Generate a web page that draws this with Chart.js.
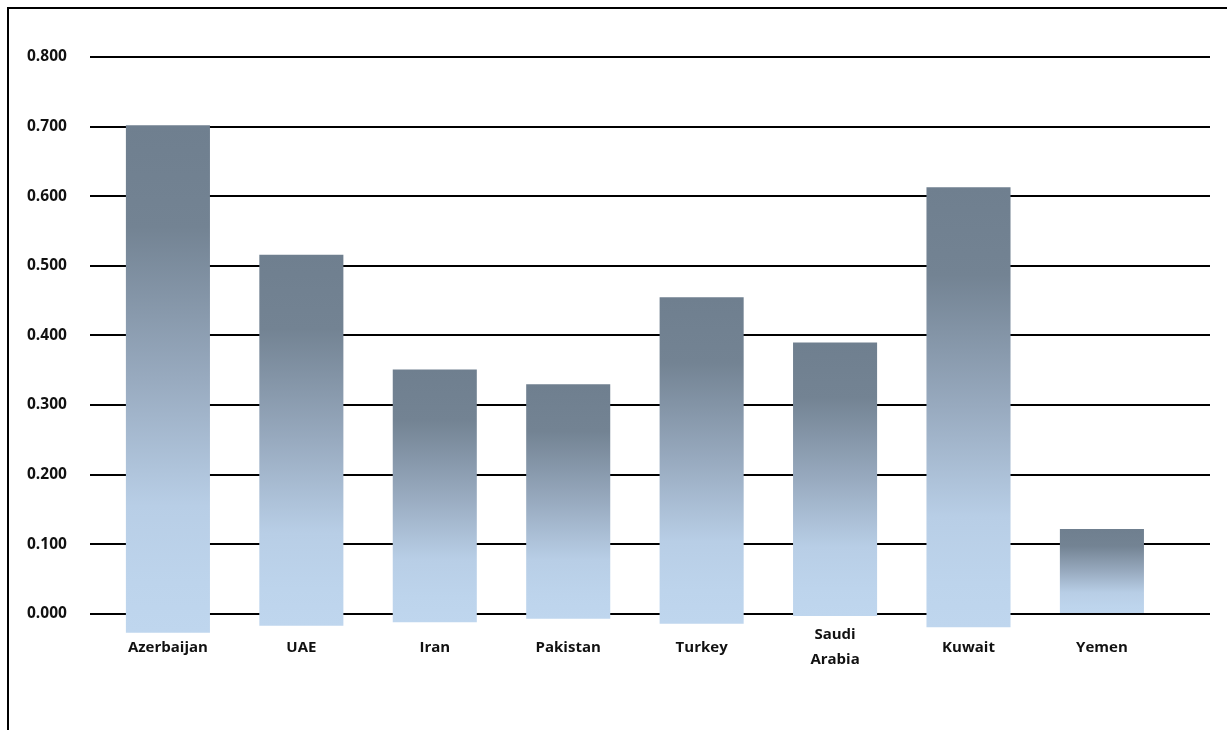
<!DOCTYPE html>
<html>
<head>
<meta charset="utf-8">
<script src="https://cdn.jsdelivr.net/npm/chart.js@4"></script>
<style>
  html, body { margin: 0; padding: 0; background: #fff; }
  #wrap { position: absolute; left: 0; top: 0; width: 1227px; height: 730px; }
  #frame { position: absolute; left: 7px; top: 7px; right: 0; bottom: 0;
           border-left: 2px solid #000; border-top: 2px solid #000; }
</style>
</head>
<body>
<div id="wrap">
  <div id="frame"></div>
  <canvas id="barChart" width="1227" height="730"></canvas>
</div>
<script>
const countries = ['Azerbaijan', 'UAE', 'Iran', 'Pakistan', 'Turkey', 'Saudi Arabia', 'Kuwait', 'Yemen'];
const values = [0.702, 0.516, 0.351, 0.330, 0.455, 0.390, 0.613, 0.122];
// the scanned bars reach a little under the zero line
const barBottoms = [-0.027, -0.017, -0.012, -0.007, -0.014, -0.003, -0.019, 0.0];
const yTicks = [0, 0.1, 0.2, 0.3, 0.4, 0.5, 0.6, 0.7, 0.8];

const barFill = (c) => {
    const chart = c.chart;
    const i = c.dataIndex;
    if (!chart.chartArea || i === undefined) return '#9aafc5';
    const y = chart.scales.y;
    const top = y.getPixelForValue(values[i]);
    const bottom = y.getPixelForValue(barBottoms[i]);
    const g = chart.ctx.createLinearGradient(0, top, 0, bottom);
    g.addColorStop(0, '#6f7f8f');
    g.addColorStop(0.2, '#738393');
    g.addColorStop(0.5, '#98aabf');
    g.addColorStop(0.75, '#b8cee6');
    g.addColorStop(0.9, '#bdd4ec');
    g.addColorStop(1, '#bfd6ee');
    return g;
};

const ctx = document.getElementById('barChart').getContext('2d');
const chart = new Chart(ctx, {
    type: 'bar',
    data: {
        datasets: [
            {
                data: countries.map((c, i) => ({ x: i, y: [barBottoms[i], values[i]] })),
                backgroundColor: barFill,
                borderWidth: 0,
                barPercentage: 0.63,
                categoryPercentage: 1,
                clip: false
            }
        ]
    },
    options: {
        responsive: false,
        animation: false,
        layout: { padding: { left: 4, right: 17, top: 57, bottom: 32 } },
        plugins: { legend: { display: false }, tooltip: { enabled: false } },
        scales: {
            x: {
                type: 'linear',
                offset: false,
                min: -0.585,
                max: 7.81,
                grid: { display: false },
                border: { display: false },
                ticks: {
                    stepSize: 1,
                    includeBounds: false,
                    autoSkip: false,
                    maxRotation: 0,
                    crossAlign: 'center',
                    padding: 13,
                    color: '#111',
                    font: { family: 'Open Sans', weight: 'bold', size: 15, lineHeight: 1.67 },
                    callback: (v) => (Number.isInteger(v) && countries[v]) ? countries[v].split(' ') : ''
                }
            },
            y: {
                min: 0,
                max: 0.8,
                afterBuildTicks: (axis) => { axis.ticks = yTicks.map(v => ({ value: v })); },
                grid: { color: '#000', lineWidth: 2, drawTicks: false },
                border: { display: false },
                ticks: {
                    padding: 23,
                    color: '#111',
                    font: { family: 'Open Sans', weight: 'bold', size: 15.5 },
                    callback: (v) => v.toFixed(3)
                }
            }
        }
    }
});
</script>
</body>
</html>
